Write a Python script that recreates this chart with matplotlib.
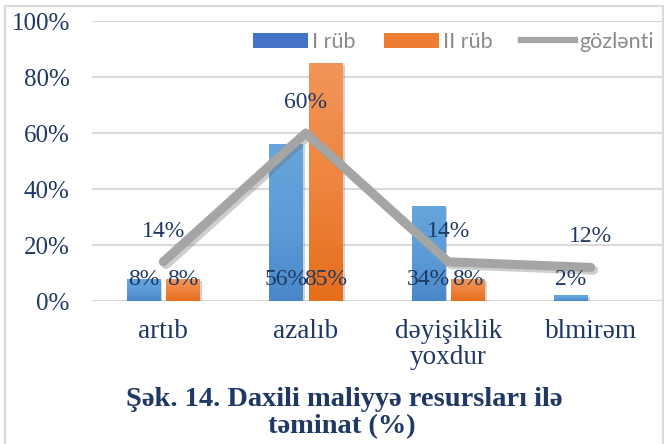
import matplotlib
matplotlib.use('Agg')
import matplotlib.pyplot as plt
import numpy as np
from matplotlib import patheffects as pe
from matplotlib.colors import LinearSegmentedColormap
from matplotlib.patches import Rectangle, Patch
from matplotlib.lines import Line2D

# ---- data ----
categories = ['artıb', 'azalıb', 'dəyişiklik\nyoxdur', 'blmirəm']
q1_values = [8, 56, 34, 2]          # I rüb
q2_values = [8, 85, 8, 0]           # II rüb
expected_values = [14, 60, 14, 12]  # gözlənti
series_names = ['I rüb', 'II rüb', 'gözlənti']
yticks = [0, 20, 40, 60, 80, 100]
ytick_labels = ['0%', '20%', '40%', '60%', '80%', '100%']
title_line1 = 'Şək. 14. Daxili maliyyə resursları ilə'
title_line2 = 'təminat (%)'

NAVY = '#1F3864'
SERIF = ['Liberation Serif', 'DejaVu Serif']
W, H = 670, 444

fig = plt.figure(figsize=(W / 100, H / 100), dpi=100)
ax = fig.add_axes([92 / W, 1 - 301 / H, 570 / W, 280 / H])

x = np.arange(len(categories))
bw = 0.235
off = 0.14

shadow = [pe.SimplePatchShadow(offset=(1.5, -1.5), shadow_rgbFace='#808080', alpha=0.35), pe.Normal()]
b1 = ax.bar(x - off, q1_values, width=bw, color='#5B9BD5', zorder=2, path_effects=shadow)
b2 = ax.bar(x + off, q2_values, width=bw, color='#ED7D31', zorder=2, path_effects=shadow)

cm_blue = LinearSegmentedColormap.from_list('b', ['#4A87C9', '#5C9DD8', '#66A5DD'])
cm_orange = LinearSegmentedColormap.from_list('o', ['#E56E1A', '#EE8540', '#F29559'])
grad = np.linspace(0, 1, 256).reshape(-1, 1)
for bars, cm in ((b1, cm_blue), (b2, cm_orange)):
    for p in bars:
        h = p.get_height()
        if h <= 0:
            continue
        x0 = p.get_x()
        im = ax.imshow(grad, extent=[x0, x0 + p.get_width(), 0, h], origin='lower',
                       cmap=cm, aspect='auto', zorder=2.1, interpolation='bilinear')
        im.set_clip_path(p)

# line
ax.plot(x, expected_values, color='#A5A5A5', lw=6.5, solid_capstyle='round',
        solid_joinstyle='round', zorder=3,
        path_effects=[pe.SimpleLineShadow(offset=(2, -2), shadow_color='#707070', alpha=0.35),
                      pe.Normal()])

# bar labels (inside base)
for bars, vals in ((b1, q1_values), (b2, q2_values)):
    for p, v in zip(bars, vals):
        if v == 0:
            continue
        ax.annotate(f'{v}%', (p.get_x() + p.get_width() / 2, 0), xytext=(0, 15.5),
                    textcoords='offset points', ha='center', va='center',
                    fontsize=17, color=NAVY, family=SERIF, zorder=6)
# line labels
for xi, v in zip(x, expected_values):
    ax.annotate(f'{v}%', (xi, v), xytext=(0, 22), textcoords='offset points',
                ha='center', va='center', fontsize=17, color=NAVY, family=SERIF, zorder=6)

ax.set_xlim(-0.5, 3.5)
ax.set_ylim(0, 100)
ax.set_yticks(yticks)
ax.set_yticklabels(ytick_labels, fontsize=18, color=NAVY, family=SERIF)
ax.set_xticks(x)
ax.set_xticklabels(categories, fontsize=19.5, color=NAVY, family=SERIF, linespacing=1.05)
ax.tick_params(axis='y', length=0, pad=16)
ax.tick_params(axis='x', length=0, pad=13)
ax.yaxis.grid(True, color='#D9D9D9', lw=1.5)
ax.set_axisbelow(True)
for s in ax.spines.values():
    s.set_visible(False)

handles = [Patch(facecolor='#4472C4'), Patch(facecolor='#ED7D31'),
           Line2D([0], [0], color='#A5A5A5', lw=4.5)]
leg = ax.legend(handles, series_names, ncol=3, loc='center left',
                bbox_to_anchor=(253 / W, 1 - 42 / H), bbox_transform=fig.transFigure,
                frameon=False, borderpad=0, borderaxespad=0, handlelength=2.55,
                handleheight=0.7, handletextpad=0.2, columnspacing=1.3,
                prop={'family': ['Lato', 'DejaVu Sans'], 'size': 15.5})
for t in leg.get_texts():
    t.set_color('#8A8A8A')

fig.text(344 / W, 1 - 406 / H, title_line1, ha='center', va='baseline', fontsize=20.5,
         fontweight='bold', color=NAVY, family=SERIF)
fig.text(342 / W, 1 - 433 / H, title_line2, ha='center', va='baseline', fontsize=20.5,
         fontweight='bold', color=NAVY, family=SERIF)

fig.patches.append(Rectangle((5 / W, -0.1), (663 - 5) / W, 1 - 6 / H + 0.1,
                             transform=fig.transFigure, fill=False,
                             edgecolor='#D9D9D9', lw=1.5))

fig.savefig('out.png', dpi=100)
